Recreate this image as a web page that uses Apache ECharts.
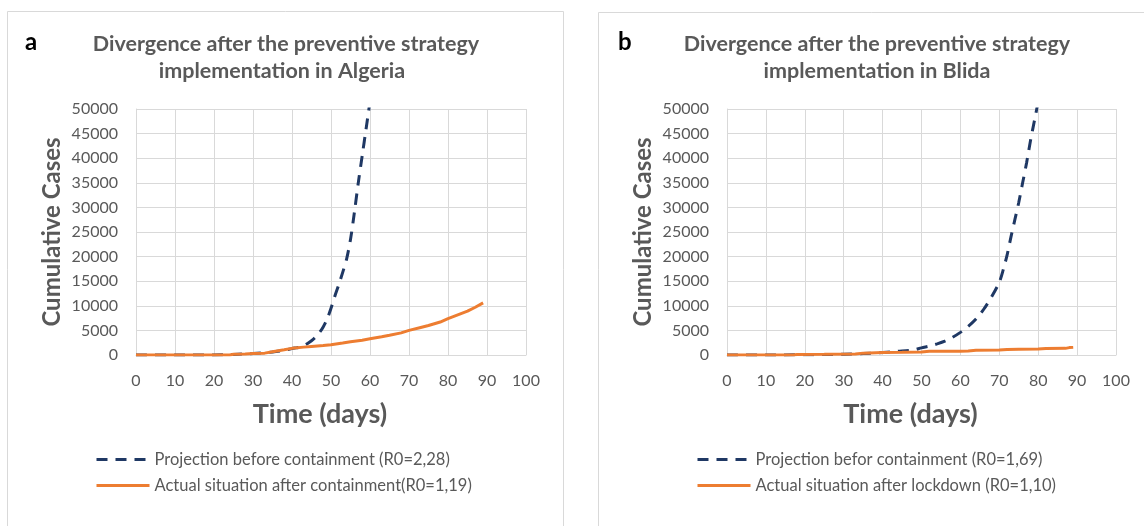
<!DOCTYPE html>
<html><head><meta charset="utf-8">
<script src="https://cdn.jsdelivr.net/npm/echarts@6/dist/echarts.min.js"></script>
<style>html,body{margin:0;padding:0;background:#fff}#c{width:1144px;height:526px}</style>
</head><body><div id="c"></div>
<script>
// ---- Data ----
const xTicks = [0,10,20,30,40,50,60,70,80,90,100];
const yTicks = [0,5000,10000,15000,20000,25000,30000,35000,40000,45000,50000];

// Panel a: Algeria
const algProjDays = [0,10,20,25,30,35,38,40,41,42,43,44,45,46,47,48,49,50,51,52,53,54,55,56,57,58,59,60];
const algProjVals = [0,0,20,120,300,600,950,1300,1450,1600,1900,2350,2900,3600,4500,5700,7300,9500,12000,14300,16800,19500,23500,29000,35000,40500,46000,51500];
const algActDays = [0,5,10,15,20,24,25,28,30,33,35,38,40,43,45,48,50,53,55,58,60,63,65,68,70,73,75,78,80,83,85,87,89];
const algActVals = [0,0,0,0,0,10,150,200,300,380,650,1050,1350,1600,1750,1950,2100,2450,2700,3000,3300,3700,4000,4500,5000,5600,6000,6700,7400,8300,8900,9700,10600];

// Panel b: Blida
const bliProjDays = [0,10,20,30,35,40,42,44,46,48,50,52,54,56,58,60,62,64,66,68,70,71,72,73,74,75,76,77,78,79,80];
const bliProjVals = [0,0,50,150,300,500,600,750,850,1000,1450,1800,2250,2800,3600,4600,5800,7300,9300,11800,14800,17300,20300,24000,27500,31000,35000,39000,43500,47500,51500];
const bliActDays = [0,10,17,18,25,33,35,40,45,50,52,60,62,64,70,72,75,80,82,87,88,89];
const bliActVals = [0,0,0,120,150,200,380,520,550,620,750,780,800,950,1000,1100,1150,1200,1300,1350,1500,1550];

const legendA = ['Projection before containment (R0=2,28)', 'Actual situation after containment(R0=1,19)'];
const legendB = ['Projection befor containment (R0=1,69)', 'Actual situation after lockdown (R0=1,10)'];

function pairs(xs, ys){ return xs.map((x,i)=>[x, ys[i]]); }

const NAVY = '#1F3864', ORANGE = '#ED7D31', GREY = '#595959', GRID = '#D9D9D9';
const FONT = 'Lato';

function xAxis(gi){
  return {
    gridIndex: gi, type: 'value', min: xTicks[0], max: xTicks[xTicks.length-1], interval: xTicks[1]-xTicks[0],
    axisLine: {show: true, lineStyle: {color: GRID, width: 1}},
    axisTick: {show: false},
    splitLine: {show: true, lineStyle: {color: GRID, width: 1}},
    axisLabel: {color: GREY, fontFamily: FONT, fontSize: 16, margin: 18, formatter: v => String(v)},
    name: 'Time (days)', nameLocation: 'middle', nameGap: 46,
    nameTextStyle: {color: GREY, fontFamily: FONT, fontSize: 27, fontWeight: 'bold', padding: [0, 22, 0, 0]}
  };
}
function yAxis(gi){
  return {
    gridIndex: gi, type: 'value', min: yTicks[0], max: yTicks[yTicks.length-1], interval: yTicks[1]-yTicks[0],
    axisLine: {show: true, lineStyle: {color: GRID, width: 1}},
    axisTick: {show: false},
    splitLine: {show: true, lineStyle: {color: GRID, width: 1}},
    axisLabel: {color: GREY, fontFamily: FONT, fontSize: 16, margin: 18, formatter: v => String(v)},
    name: 'Cumulative Cases', nameLocation: 'middle', nameGap: 72,
    nameTextStyle: {color: GREY, fontFamily: FONT, fontSize: 24, fontWeight: 'bold'}
  };
}
function legend(left, names){
  return {
    orient: 'vertical', left: left, top: 446, itemWidth: 53, itemHeight: 18, itemGap: 9,
    data: names,
    itemStyle: {opacity: 0},
    lineStyle: {width: 3},
    textStyle: {color: GREY, fontFamily: FONT, fontSize: 16.5}
  };
}
function proj(name, gi, data){
  return {name, type: 'line', xAxisIndex: gi, yAxisIndex: gi, data, symbol: 'none', smooth: 0.3,
    lineStyle: {color: NAVY, width: 3, type: [11, 8]}, itemStyle: {color: NAVY}, z: 2, animation: false};
}
function act(name, gi, data){
  return {name, type: 'line', xAxisIndex: gi, yAxisIndex: gi, data, symbol: 'none',
    lineStyle: {color: ORANGE, width: 3}, itemStyle: {color: ORANGE}, z: 3, animation: false};
}
function titleText(x, y, t){
  return {type: 'text', x: x, y: y, style: {text: t, align: 'center', verticalAlign: 'middle',
    fill: GREY, font: 'bold 21.5px ' + FONT}};
}

const chart = echarts.init(document.getElementById('c'), null, {renderer: 'canvas'});
chart.setOption({
  animation: false,
  backgroundColor: '#fff',
  grid: [
    {left: 136, top: 109, width: 390, height: 246},
    {left: 727, top: 109, width: 389, height: 246}
  ],
  xAxis: [xAxis(0), xAxis(1)],
  yAxis: [yAxis(0), yAxis(1)],
  legend: [legend(90, legendA), legend(691, legendB)],
  series: [
    proj(legendA[0], 0, pairs(algProjDays, algProjVals)),
    act(legendA[1], 0, pairs(algActDays, algActVals)),
    proj(legendB[0], 1, pairs(bliProjDays, bliProjVals)),
    act(legendB[1], 1, pairs(bliActDays, bliActVals))
  ],
  graphic: [
    {type: 'rect', shape: {x: 7.5, y: 11.5, width: 556, height: 530}, style: {fill: 'none', stroke: GRID, lineWidth: 1}, silent: true},
    {type: 'rect', shape: {x: 598.5, y: 12.5, width: 560, height: 530}, style: {fill: 'none', stroke: GRID, lineWidth: 1}, silent: true},
    {type: 'text', x: 25, y: 42, style: {text: 'a', verticalAlign: 'middle', fill: '#000', font: 'bold 24px ' + FONT}},
    {type: 'text', x: 618, y: 42, style: {text: 'b', verticalAlign: 'middle', fill: '#000', font: 'bold 24px ' + FONT}},
    titleText(286, 44, 'Divergence after the preventive strategy'),
    titleText(282, 71, 'implementation in Algeria'),
    titleText(877, 44, 'Divergence after the preventive strategy'),
    titleText(877, 71, 'implementation in Blida')
  ]
});
</script>
</body></html>
